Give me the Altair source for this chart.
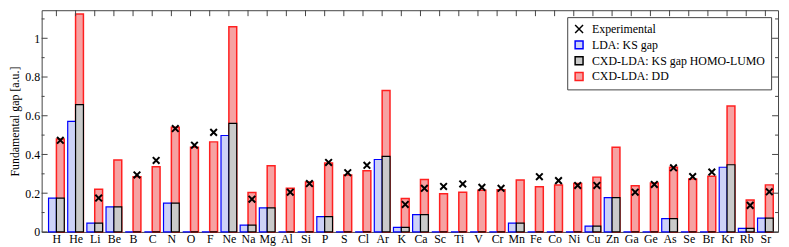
import altair as alt
import pandas as pd

elements = ["H", "He", "Li", "Be", "B", "C", "N", "O", "F", "Ne", "Na", "Mg", "Al", "Si",
            "P", "S", "Cl", "Ar", "K", "Ca", "Sc", "Ti", "V", "Cr", "Mn", "Fe", "Co", "Ni",
            "Cu", "Zn", "Ga", "Ge", "As", "Se", "Br", "Kr", "Rb", "Sr"]
lda_ks = [0.175, 0.571, 0.045, 0.129, 0, 0, 0.149, 0, 0, 0.498, 0.035, 0.124, 0, 0,
          0.079, 0, 0, 0.374, 0.023, 0.089, 0, 0, 0, 0, 0.045, 0, 0, 0,
          0.030, 0.177, 0, 0, 0.069, 0, 0, 0.334, 0.018, 0.071]
cxd_ks = [0.175, 0.657, 0.045, 0.129, 0, 0, 0.149, 0, 0, 0.561, 0.035, 0.124, 0, 0,
          0.079, 0, 0, 0.390, 0.023, 0.089, 0, 0, 0, 0, 0.045, 0, 0, 0,
          0.030, 0.177, 0, 0, 0.069, 0, 0, 0.347, 0.018, 0.071]
cxd_dd = [0.480, 1.125, 0.220, 0.372, 0.285, 0.337, 0.541, 0.437, 0.465, 1.059, 0.203, 0.342, 0.225, 0.258,
          0.356, 0.294, 0.316, 0.730, 0.172, 0.271, 0.197, 0.205, 0.215, 0.218, 0.268, 0.233, 0.242, 0.250,
          0.283, 0.437, 0.238, 0.253, 0.334, 0.273, 0.288, 0.650, 0.165, 0.243]
experimental = [0.473, None, 0.175, None, 0.294, 0.369, 0.534, 0.448, 0.514, None, 0.169, None, 0.205, 0.250,
                0.359, 0.306, 0.344, None, 0.142, 0.225, 0.235, 0.248, 0.230, 0.225, None, 0.285, 0.265, 0.240,
                0.240, None, 0.205, 0.245, 0.331, 0.286, 0.309, None, 0.137, 0.207]

series = ["Experimental", "LDA: KS gap", "CXD-LDA: KS gap HOMO-LUMO", "CXD-LDA: DD"]
fills = ["transparent", "#cdd2f7", "#cacaca", "#f6a2a2"]
strokes = ["black", "#0000ff", "black", "#ff2020"]
xpath = "M-1,-1L1,1M-1,1L1,-1"
shapes = [xpath, "square", "square", "square"]

HALF = 0.41
idx = list(range(1, len(elements) + 1))

dd_df = pd.DataFrame({"x": idx, "x2": [i + HALF for i in idx], "y": cxd_dd, "series": series[3]})
lda_df = pd.DataFrame({"x": [i - HALF for i in idx], "x2": idx, "y": lda_ks, "series": series[1]})
cxd_df = pd.DataFrame({"x": idx, "x2": [i + HALF for i in idx], "y": cxd_ks, "series": series[2]})
exp_df = pd.DataFrame({"x": [i + HALF / 2 for i in idx], "y": experimental, "series": series[0]}).dropna()

W, H = 744, 224
FONT = "'Liberation Serif', 'Times New Roman', 'DejaVu Serif', serif"

xscale = alt.Scale(domain=[0.23, 38.66], nice=False, zero=False)
yscale = alt.Scale(domain=[0, 1.145], nice=False, zero=False)
fill_scale = alt.Scale(domain=series, range=fills)
stroke_scale = alt.Scale(domain=series, range=strokes)
shape_scale = alt.Scale(domain=series, range=shapes)

label_expr = "[" + ",".join("'%s'" % e for e in elements) + "][datum.value - 1]"

xaxis = alt.Axis(values=idx, labelExpr=label_expr, title=None, labelAngle=0, labelOverlap=False)
yaxis = alt.Axis(values=[0, 0.2, 0.4, 0.6, 0.8, 1.0], format="~g", title="Fundamental gap [a.u.]")

legend = alt.Legend(title=None, orient="top-right")


def bars(df, sw):
    return alt.Chart(df).mark_bar(strokeWidth=sw).encode(
        x=alt.X("x:Q", scale=xscale, axis=xaxis),
        x2="x2:Q",
        y=alt.Y("y:Q", scale=yscale, axis=yaxis),
        y2=alt.datum(0),
        fill=alt.Fill("series:N", scale=fill_scale, legend=legend),
        stroke=alt.Stroke("series:N", scale=stroke_scale, legend=legend),
    )


points = alt.Chart(exp_df).mark_point(filled=True, size=45, strokeWidth=2, opacity=1).encode(
    x=alt.X("x:Q", scale=xscale, axis=xaxis),
    y=alt.Y("y:Q", scale=yscale, axis=yaxis),
    fill=alt.Fill("series:N", scale=fill_scale, legend=legend),
    stroke=alt.Stroke("series:N", scale=stroke_scale, legend=legend),
    shape=alt.Shape("series:N", scale=shape_scale, legend=legend),
)

major = pd.DataFrame({"y": [0, 0.2, 0.4, 0.6, 0.8, 1.0]})
minor = pd.DataFrame({"y": [0.1, 0.3, 0.5, 0.7, 0.9, 1.1]})
tops = pd.DataFrame({"x": idx})


def yticks(df, x1, x2):
    return alt.Chart(df).mark_rule(color="#444", strokeWidth=1).encode(
        y=alt.Y("y:Q", scale=yscale, axis=yaxis), x=alt.value(x1), x2=alt.value(x2))


top_ticks = alt.Chart(tops).mark_rule(color="#444", strokeWidth=1).encode(
    x=alt.X("x:Q", scale=xscale, axis=xaxis), y=alt.value(0), y2=alt.value(6))

chart = alt.layer(
    bars(dd_df, 1.5),
    bars(lda_df, 1.2),
    bars(cxd_df, 1.2),
    points,
    yticks(major, 0, 6),
    yticks(minor, 0, 3),
    yticks(major, W, W - 6),
    yticks(minor, W, W - 3),
    top_ticks,
).properties(
    width=W, height=H,
    autosize=alt.AutoSizeParams(type="none"),
    padding={"left": 34, "top": 1, "right": 3, "bottom": 14},
).configure(
    background="white", font=FONT
).configure_view(
    stroke="#444", strokeWidth=1
).configure_axis(
    ticks=False, domain=False, grid=False,
    labelFont=FONT, labelFontSize=12, labelColor="black", labelPadding=2,
    titleFont=FONT, titleFontSize=12, titleFontWeight="normal", titleColor="black", titlePadding=3,
).configure_legend(
    offset=7, padding=6, fillColor="white", strokeColor="#444",
    labelFont=FONT, labelFontSize=12, labelColor="black", labelLimit=0,
    symbolSize=64, symbolStrokeWidth=1.5, rowPadding=2, labelOffset=7, cornerRadius=0,
)

chart.save("out.html", embed_options={"renderer": "svg", "actions": False})
